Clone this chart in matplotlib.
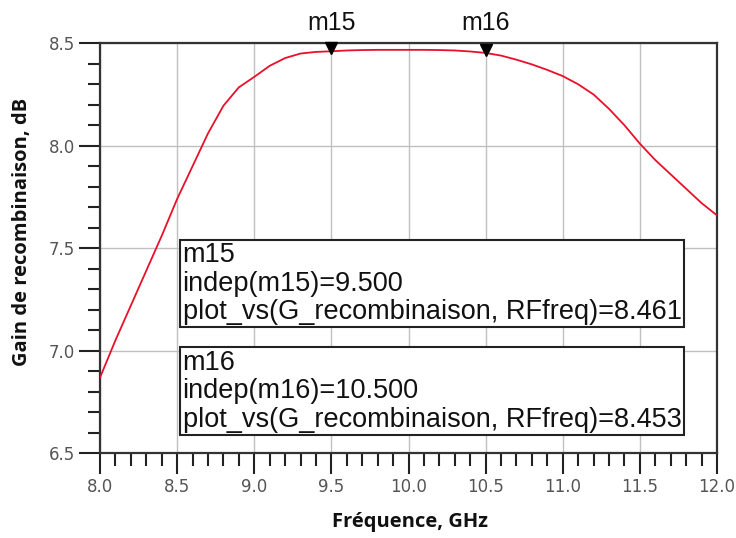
import matplotlib
matplotlib.use("Agg")
import matplotlib.pyplot as plt
from matplotlib.ticker import MultipleLocator, FormatStrFormatter

freq = [8.0, 8.1, 8.2, 8.3, 8.4, 8.5, 8.6, 8.7, 8.8, 8.9, 9.0, 9.1, 9.2, 9.3, 9.4,
        9.5, 9.6, 9.7, 9.8, 9.9, 10.0, 10.1, 10.2, 10.3, 10.4, 10.5, 10.6, 10.7,
        10.8, 10.9, 11.0, 11.1, 11.2, 11.3, 11.4, 11.5, 11.6, 11.7, 11.8, 11.9, 12.0]
gain = [6.868, 7.05, 7.22, 7.39, 7.56, 7.74, 7.90, 8.06, 8.195, 8.285, 8.336, 8.39,
        8.428, 8.450, 8.458, 8.461, 8.465, 8.467, 8.468, 8.468, 8.468, 8.468, 8.467,
        8.465, 8.46, 8.453, 8.44, 8.42, 8.397, 8.37, 8.34, 8.30, 8.25, 8.18, 8.10,
        8.01, 7.93, 7.86, 7.79, 7.72, 7.66]

markers = ["m15", "m16"]
marker_x = [9.5, 10.5]
marker_y = [8.461, 8.453]

fig = plt.figure(figsize=(7.36, 5.38), dpi=100)
ax = fig.add_axes([100/736, 1-453/538, 617/736, (453-43.3)/538])

ax.plot(freq, gain, color="#e8102a", lw=1.3, zorder=3)
ax.set_xlim(8.0, 12.0)
ax.set_ylim(6.5, 8.5)

ax.xaxis.set_major_locator(MultipleLocator(0.5))
ax.xaxis.set_minor_locator(MultipleLocator(0.1))
ax.yaxis.set_major_locator(MultipleLocator(0.5))
ax.yaxis.set_minor_locator(MultipleLocator(0.1))
ax.xaxis.set_major_formatter(FormatStrFormatter("%.1f"))
ax.yaxis.set_major_formatter(FormatStrFormatter("%.1f"))

ax.grid(True, which="major", color="#c0c0c0", lw=1.0, zorder=0)
ax.tick_params(which="major", length=15, width=1.5, color="#222222",
               labelsize=12, labelcolor="#555555", direction="out", pad=3)
ax.tick_params(which="minor", length=9, width=1.5, color="#222222", direction="out")
for s in ax.spines.values():
    s.set_linewidth(1.6)
    s.set_color("#333333")

for name, mx, my in zip(markers, marker_x, marker_y):
    ax.plot([mx], [my + 0.015], marker="v", color="black", ms=8, zorder=5, clip_on=False)
    ax.text(mx, 8.6, name, ha="center", va="center", fontsize=18,
            family="Liberation Sans", color="#111111")

txt_kw = dict(fontsize=19.5, family="Liberation Sans", color="#111111",
              va="top", ha="left", linespacing=1.13, zorder=6)
box_kw = dict(boxstyle="square,pad=0.08", facecolor="white", edgecolor="#222222", lw=1.5)
ax.text(8.535, 7.53,
        f"{markers[0]}\nindep({markers[0]})={marker_x[0]:.3f}\nplot_vs(G_recombinaison, RFfreq)={marker_y[0]:.3f}",
        bbox=box_kw, **txt_kw)
ax.text(8.535, 7.005,
        f"{markers[1]}\nindep({markers[1]})={marker_x[1]:.3f}\nplot_vs(G_recombinaison, RFfreq)={marker_y[1]:.3f}",
        bbox=box_kw, **txt_kw)

lab_font = dict(family="Open Sans", fontweight="bold", fontsize=14.5, color="#111111")
fig.text(410/736, 1-522/538, "Fréquence, GHz", ha="center", va="center", **lab_font)
fig.text(22/736, 1-232/538, "Gain de recombinaison, dB", ha="center", va="center",
         rotation=90, **lab_font)

fig.savefig("out.png", dpi=100)
